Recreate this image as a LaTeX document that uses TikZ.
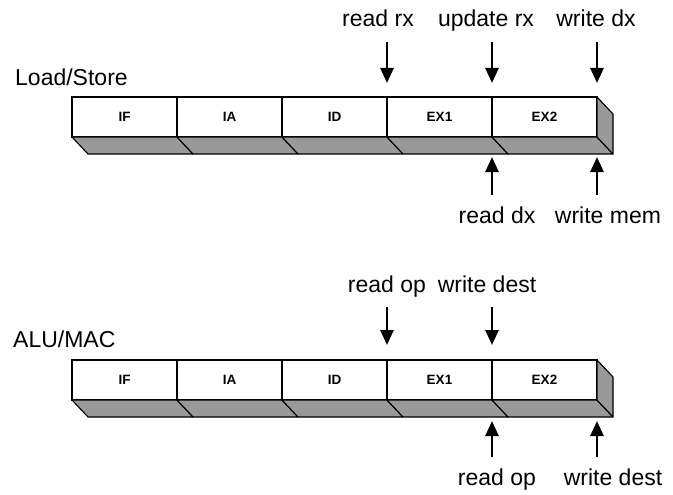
\documentclass[tikz,border=0pt]{standalone}
\usepackage{fontspec}
\setmainfont{Liberation Sans}
\usetikzlibrary{arrows.meta, calc}

\tikzset{
	stage/.style={draw, line width=1.1pt, minimum width=105pt, minimum height=40pt,
		anchor=north west, inner sep=0pt, outer sep=0pt,
		font=\fontsize{13.5}{15}\selectfont\bfseries},
	face/.style={draw, line width=1.1pt, fill=black!40, line join=round},
	flow/.style={line width=2.6pt, -{Triangle[length=15pt,width=13pt]}},
	lbl/.style={font=\fontsize{23}{27}\selectfont, anchor=base, inner sep=0pt},
	pipe/.style={font=\fontsize{23}{27}\selectfont, anchor=base west, inner sep=0pt}
}

\begin{document}
\begin{tikzpicture}[x=1pt, y=-1pt]
	\useasboundingbox (0,0) rectangle (673,495);

	% Load/Store pipeline
	\node[pipe] (ls) at (15,85) {Load/Store};
	\foreach \s [count=\i] in {IF,IA,ID,EX1,EX2}
		\node[stage] (ls\i) at ({72+105*(\i-1)},97) {\s};
	\foreach \i in {1,...,5}
		\draw[face] (ls\i.south west) -- (ls\i.south east) -- ++(16,17)
			-- ([shift={(16,17)}]ls\i.south west) -- cycle;
	\draw[face] (ls5.north east) -- ++(16,17) -- ++(0,40) -- (ls5.south east) -- cycle;

	\node[lbl] (rdrx) at (378,27) {read rx};
	\node[lbl] (udrx) at (486,27) {update rx};
	\node[lbl] (wrdx) at (596,27) {write dx};
	\node[lbl] (rddx) at (497,223) {read dx};
	\node[lbl] (wrmem) at (608,223) {write mem};

	\draw[flow, shorten <=15pt, shorten >=14pt] (rdrx.base -| ls3.north east) -- (ls3.north east);
	\draw[flow, shorten <=15pt, shorten >=14pt] (udrx.base -| ls4.north east) -- (ls4.north east);
	\draw[flow, shorten <=15pt, shorten >=14pt] (wrdx.base -| ls5.north east) -- (ls5.north east);
	\draw[flow, shorten <=28pt, shorten >=20pt] (rddx.base -| ls4.south east) -- (ls4.south east);
	\draw[flow, shorten <=28pt, shorten >=20pt] (wrmem.base -| ls5.south east) -- (ls5.south east);

	% ALU/MAC pipeline
	\node[pipe] (au) at (13,347) {ALU/MAC};
	\foreach \s [count=\i] in {IF,IA,ID,EX1,EX2}
		\node[stage] (au\i) at ({72+105*(\i-1)},360) {\s};
	\foreach \i in {1,...,5}
		\draw[face] (au\i.south west) -- (au\i.south east) -- ++(16,17)
			-- ([shift={(16,17)}]au\i.south west) -- cycle;
	\draw[face] (au5.north east) -- ++(16,17) -- ++(0,40) -- (au5.south east) -- cycle;

	\node[lbl] (rdop) at (387,292) {read op};
	\node[lbl] (wrdst) at (487,292) {write dest};
	\node[lbl] (rdopb) at (497,485) {read op};
	\node[lbl] (wrdstb) at (613,485) {write dest};

	\draw[flow, shorten <=15pt, shorten >=15pt] (rdop.base -| au3.north east) -- (au3.north east);
	\draw[flow, shorten <=15pt, shorten >=15pt] (wrdst.base -| au4.north east) -- (au4.north east);
	\draw[flow, shorten <=28pt, shorten >=21pt] (rdopb.base -| au4.south east) -- (au4.south east);
	\draw[flow, shorten <=28pt, shorten >=21pt] (wrdstb.base -| au5.south east) -- (au5.south east);
\end{tikzpicture}
\end{document}
